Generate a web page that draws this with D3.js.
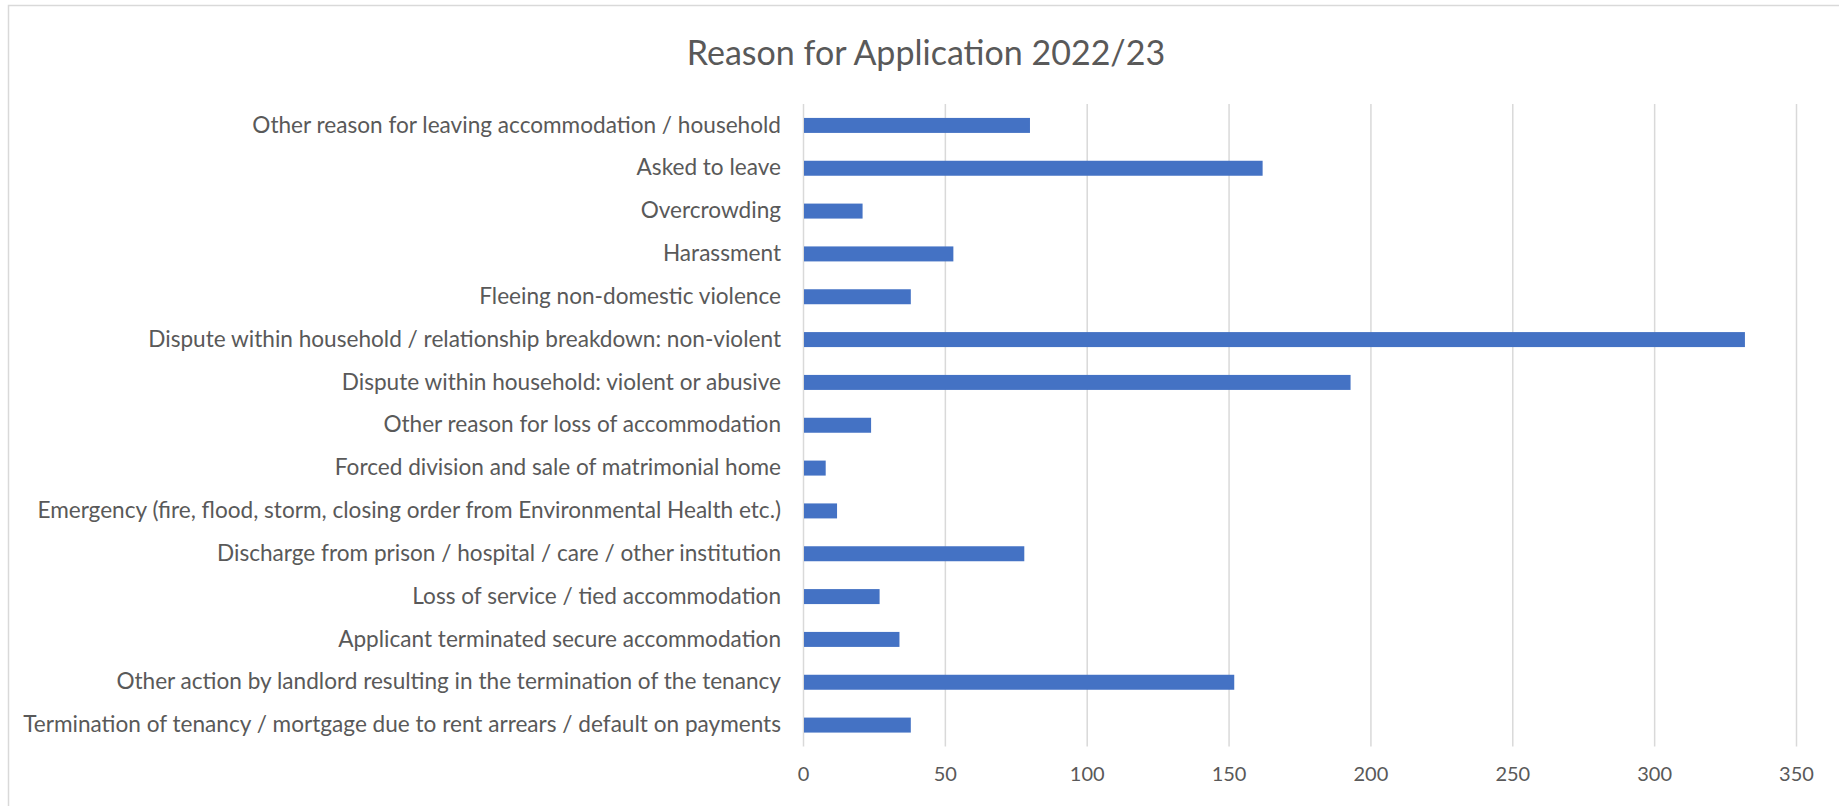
<!DOCTYPE html>
<html>
<head>
<meta charset="utf-8">
<script src="https://cdnjs.cloudflare.com/ajax/libs/d3/7.8.5/d3.min.js"></script>
<style>
  body { margin: 0; background: #fff; }
  text { font-family: Lato, "Open Sans", sans-serif; fill: #595959; }
</style>
</head>
<body>
<div id="chart"></div>
<script>
// categories, top to bottom as drawn
var reasons = [
  "Other reason for leaving accommodation / household",
  "Asked to leave",
  "Overcrowding",
  "Harassment",
  "Fleeing non-domestic violence",
  "Dispute within household / relationship breakdown: non-violent",
  "Dispute within household: violent or abusive",
  "Other reason for loss of accommodation",
  "Forced division and sale of matrimonial home",
  "Emergency (fire, flood, storm, closing order from Environmental Health etc.)",
  "Discharge from prison / hospital / care / other institution",
  "Loss of service / tied accommodation",
  "Applicant terminated secure accommodation",
  "Other action by landlord resulting in the termination of the tenancy",
  "Termination of tenancy / mortgage due to rent arrears / default on payments"
];
var counts = [80, 162, 21, 53, 38, 332, 193, 24, 8, 12, 78, 27, 34, 152, 38];
var xTicks = [0, 50, 100, 150, 200, 250, 300, 350];

var svgWidth = 1839;
var svgHeight = 806;

var margin = { top: 104, right: 43, bottom: 59.5, left: 803 };
var width = svgWidth - margin.left - margin.right;
var height = svgHeight - margin.top - margin.bottom;

var svg = d3.select("#chart")
  .append("svg")
  .attr("width", svgWidth)
  .attr("height", svgHeight);

// chart area border
svg.append("rect")
  .attr("x", 8.5)
  .attr("y", 5.5)
  .attr("width", 1840)
  .attr("height", 820)
  .attr("fill", "none")
  .attr("stroke", "#d9d9d9")
  .attr("stroke-width", 1.5);

svg.append("text")
  .attr("x", 926)
  .attr("y", 53)
  .attr("dy", "0.35em")
  .attr("text-anchor", "middle")
  .style("font-size", "34px")
  .text("Reason for Application 2022/23");

var chartGroup = svg.append("g")
  .attr("transform", `translate(${margin.left}, ${margin.top})`);

var xScale = d3.scaleLinear()
  .domain([0, 350])
  .range([0, width]);

var yScale = d3.scaleBand()
  .domain(reasons)
  .range([0, height])
  .paddingInner(0.65)
  .paddingOuter(0.325);

// vertical gridlines + tick labels
var bottomAxis = d3.axisBottom(xScale)
  .tickValues(xTicks)
  .tickSize(height)
  .tickPadding(20);

var xAxisG = chartGroup.append("g")
  .call(bottomAxis);
xAxisG.select(".domain").remove();
xAxisG.selectAll(".tick line")
  .attr("stroke", "#d9d9d9")
  .attr("stroke-width", 1.5);
xAxisG.selectAll(".tick text")
  .style("font-size", "20px")
  .attr("fill", "#595959");

var leftAxis = d3.axisLeft(yScale)
  .tickSize(0)
  .tickPadding(22);

var yAxisG = chartGroup.append("g")
  .call(leftAxis);
yAxisG.select(".domain").remove();
yAxisG.selectAll(".tick text")
  .style("font-size", "22.6px")
  .attr("fill", "#595959");

chartGroup.selectAll(".bar")
  .data(counts)
  .enter()
  .append("rect")
  .attr("class", "bar")
  .attr("x", xScale(0) + 1)
  .attr("y", (d, i) => yScale(reasons[i]))
  .attr("width", d => xScale(d) - xScale(0) - 1)
  .attr("height", yScale.bandwidth())
  .attr("fill", "#4472c4");
</script>
</body>
</html>
